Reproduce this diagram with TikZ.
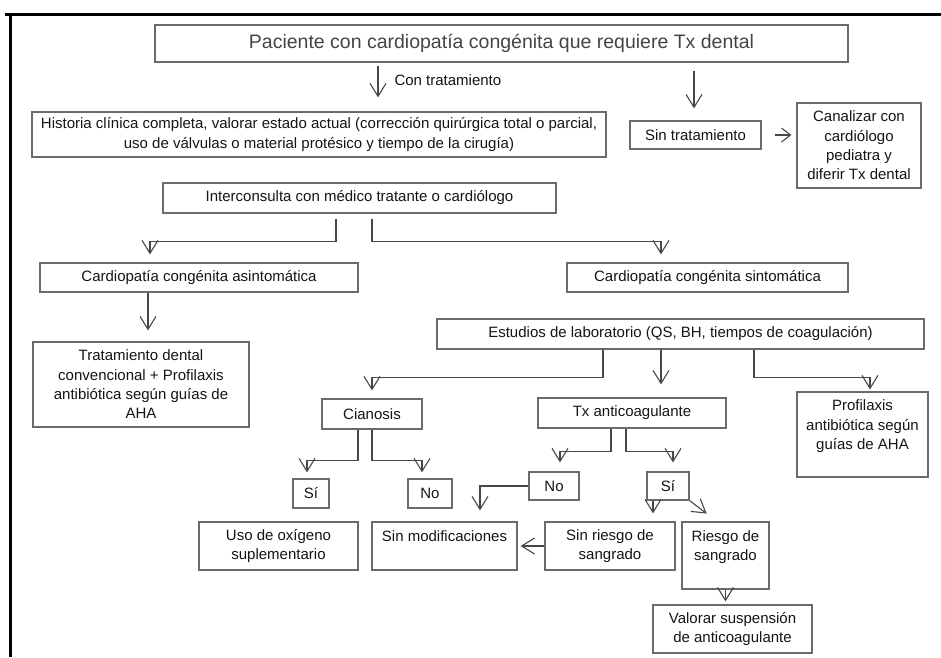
\documentclass[tikz,border=0pt]{standalone}
\usepackage{fontspec}
\setmainfont{Liberation Sans}
\usetikzlibrary{arrows.meta, positioning, calc}
\definecolor{edgec}{HTML}{6A6A6A}
\definecolor{linec}{HTML}{474747}
\definecolor{txtc}{HTML}{141414}
\definecolor{titlec}{HTML}{444444}
\tikzset{
  blk/.style={draw=edgec, line width=1.2pt, text=txtc, align=center, inner sep=2pt,
              font=\fontsize{15}{19.3}\selectfont},
  sz/.style 2 args={minimum width=#1pt, minimum height=#2pt},
  sig/.style={-{Straight Barb[length=13pt, width=16pt]}, draw=linec, line width=1.1pt},
  frm/.style={line width=3pt, black},
}

\begin{document}
\begin{tikzpicture}[x=1pt, y=-1pt]
  \useasboundingbox (0,0) rectangle (941,657);
  % outer frame
  \draw[frm] (5,14) -- (941,14);
  \draw[frm] (10,14) -- (10,657);

  % boxes
  \node[blk, sz={693}{37}, font=\fontsize{19.5}{23}\selectfont, text=titlec] (pac) at (501.5,43.5)
    {Paciente con cardiopatía congénita que requiere Tx dental};
  \node[blk, sz={574}{45}] (hist) at (319,134.5)
    {Historia clínica completa, valorar estado actual (corrección quirúrgica total o parcial,\\
     uso de válvulas o material protésico y tiempo de la cirugía)};
  \node[blk, sz={131}{28}] (sintx) at (695.5,135) {Sin tratamiento};
  \node[blk, sz={124}{85}] (canal) at (859,145.5) {Canalizar con\\cardiólogo\\pediatra y\\diferir Tx dental};
  \node[blk, sz={393}{30}] (inter) at (359.5,198) {Interconsulta con médico tratante o cardiólogo};
  \node[blk, sz={318}{29}] (asin) at (199,277.5) {Cardiopatía congénita asintomática};
  \node[blk, sz={281}{29}] (sint) at (707.5,277.5) {Cardiopatía congénita sintomática};
  \node[blk, sz={216}{85}] (trat) at (141,384.5)
    {Tratamiento dental\\convencional + Profilaxis\\antibiótica según guías de\\AHA};
  \node[blk, sz={487}{30}] (lab) at (680.5,334) {Estudios de laboratorio (QS, BH, tiempos de coagulación)};
  \node[blk, sz={100}{30}] (cian) at (372,414) {Cianosis};
  \node[blk, sz={188}{30}] (anti) at (632,413) {Tx anticoagulante};
  \node[blk, sz={131}{85}] (prof) at (862.5,434.5) {Profilaxis\\antibiótica según\\guías de AHA\\~};
  \node[blk, sz={36}{29}] (cisi) at (311,493.5) {Sí};
  \node[blk, sz={44}{29}] (cino) at (430,493.5) {No};
  \node[blk, sz={50}{28}] (anno) at (554,486) {No};
  \node[blk, sz={42}{28}] (ansi) at (668,486) {Sí};
  \node[blk, sz={159}{48}] (oxi) at (278.5,546) {Uso de oxígeno\\suplementario};
  \node[blk, sz={145}{48}] (smod) at (444.5,546) {Sin modificaciones\\~};
  \node[blk, sz={130}{48}] (nosan) at (610,546) {Sin riesgo de\\sangrado};
  \node[blk, sz={87}{67}] (san) at (725.5,555.5) {Riesgo de\\sangrado\\~};
  \node[blk, sz={159}{48}] (susp) at (732.5,629) {Valorar suspensión\\de anticoagulante};

  % connectors
  \draw[sig, shorten <=3pt, shorten >=14pt] ([xshift=-123.5pt]pac.south) -- ([xshift=-123.5pt]pac.south |- hist.north);
  \node[anchor=west, text=txtc, font=\fontsize{15}{19.3}\selectfont] (contx) at (391,80) {Con tratamiento};
  \draw[sig, shorten <=8pt, shorten >=12pt] ([xshift=192.5pt]pac.south) -- ([xshift=192.5pt]pac.south |- sintx.north);
  \draw[sig, -{Straight Barb[length=9pt, width=14pt]}, shorten <=13pt, shorten >=5pt] (sintx.east) -- (sintx.east -| canal.west);
  \draw[sig, shorten <=5pt, shorten >=8pt] ([xshift=-23.5pt]inter.south) -- ++(0,28) -| ([xshift=-49pt]asin.north);
  \draw[sig, shorten <=5pt, shorten >=8pt] ([xshift=12.5pt]inter.south) -- ++(0,28) -| ([xshift=-46.5pt]sint.north);
  \draw[sig, shorten >=11pt] ([xshift=-51pt]asin.south) -- ([xshift=-51pt]asin.south |- trat.north);
  \draw[sig, shorten >=8pt] ([xshift=-77.5pt]lab.south) -- ++(0,28) -| (cian.north);
  \draw[sig, shorten >=13pt] ([xshift=-19.5pt]lab.south) -- ([xshift=-19.5pt]lab.south |- anti.north);
  \draw[sig, shorten >=2pt] ([xshift=73.5pt]lab.south) -- ++(0,28) -| ([xshift=7.5pt]prof.north);
  \draw[sig, shorten >=6pt] ([xshift=-14pt]cian.south) -- ++(0,31) -| ([xshift=-4pt]cisi.north);
  \draw[sig, shorten >=6pt] (cian.south) -- ++(0,31) -| ([xshift=-8pt]cino.north);
  \draw[sig, shorten >=9pt] ([xshift=-21pt]anti.south) -- ++(0,23) -| ([xshift=6pt]anno.north);
  \draw[sig, shorten >=9pt] ([xshift=-6pt]anti.south) -- ++(0,23) -| ([xshift=5pt]ansi.north);
  \draw[sig, shorten >=11pt] (anno.west) -| ([xshift=35.5pt]smod.north);
  \draw[sig, shorten >=3pt] (nosan.west) -- (smod.east);
  \draw[sig, shorten >=8pt] ([xshift=-15pt]ansi.south) -- ([xshift=-15pt]ansi.south |- nosan.north);
  \draw[sig, shorten >=13pt] (ansi.south east) -- ([xshift=-8.5pt]san.north);
  \draw[sig, shorten >=3pt] (san.south) -- (san.south |- susp.north);
\end{tikzpicture}
\end{document}
